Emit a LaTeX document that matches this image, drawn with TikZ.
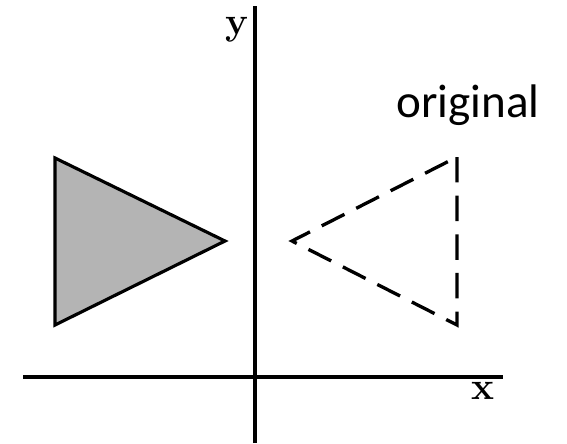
\documentclass[tikz,border=0pt]{standalone}
\usepackage{fontspec}
\newfontfamily\labelfont{Carlito}
\usetikzlibrary{math}
\definecolor{mygray}{RGB}{180,180,180}

\begin{document}
\begin{tikzpicture}[x=0.02cm,y=-0.02cm]
\tikzmath{
\W=567; \H=443;
}
\useasboundingbox (0,0) rectangle (\W,\H);

\coordinate (O) at (255,377);
\coordinate (Xleft) at (23,377);
\coordinate (Xright) at (503,377);
\coordinate (Ytop) at (255,6);
\coordinate (Ybot) at (255,\H);

\draw[line width=2.2pt] (Xleft) -- (Xright);
\draw[line width=2.2pt] (Ybot) -- (Ytop);

\node[font=\fontsize{22}{24}\selectfont\bfseries] (xlab) at (483,391) {x};
\node[font=\fontsize{22}{24}\selectfont\bfseries] (ylab) at (237,30) {y};

% image
\coordinate (A1) at (55,158);
\coordinate (A2) at (55,325);
\coordinate (A3) at (225,241);
\filldraw[fill=mygray,line width=1.8pt] (A1) -- (A3) -- (A2) -- cycle;

% original
\coordinate (B1) at (457,157);
\coordinate (B2) at (457,325);
\coordinate (B3) at (292,241);
\draw[line width=1.9pt,dash pattern=on 14.5pt off 7.5pt] (B1) -- (B2) -- (B3) -- cycle;

\node[anchor=base west,inner sep=0,font=\labelfont\fontsize{26.8}{30}\selectfont] (orig) at (396,117) {original};

\end{tikzpicture}
\end{document}
